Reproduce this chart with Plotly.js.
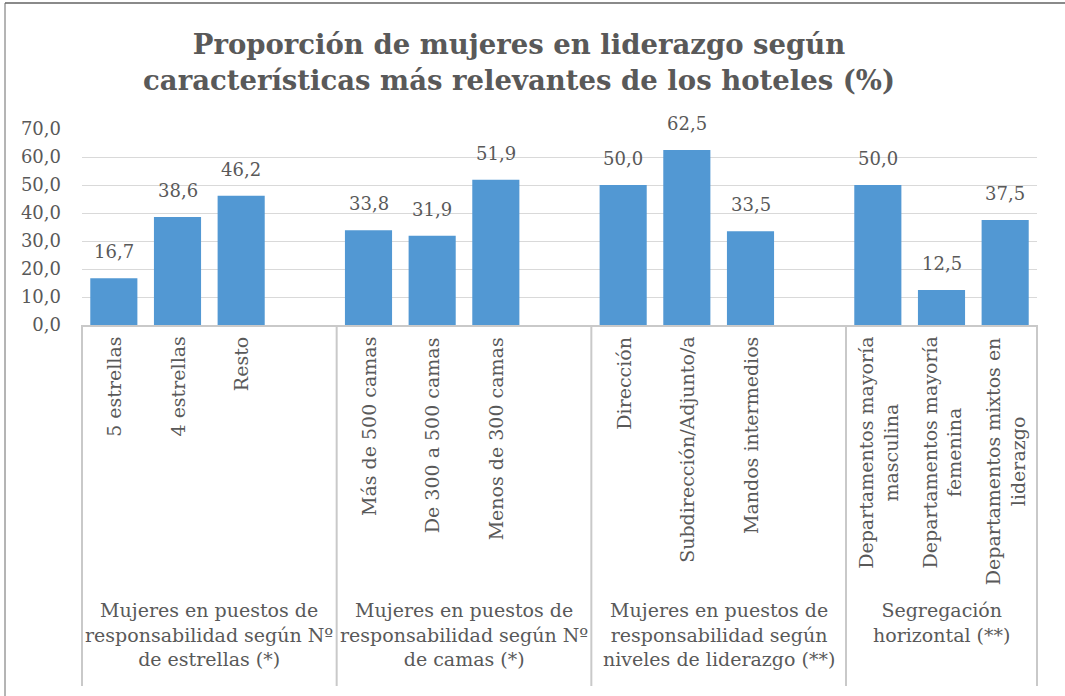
<!DOCTYPE html>
<html>
<head>
<meta charset="utf-8">
<script src="https://cdn.plot.ly/plotly-3.0.1.min.js"></script>
<style>
  html, body { margin: 0; padding: 0; background: #fff; }
  #chart { width: 1065px; height: 696px; }
</style>
</head>
<body>
<div id="chart"></div>
<script>
const titleText = "Proporción de mujeres en liderazgo según<br>características más relevantes de los hoteles (%)";
const groupLabels = [
  "Mujeres en puestos de<br>responsabilidad según Nº<br>de estrellas (*)",
  "Mujeres en puestos de<br>responsabilidad según Nº<br>de camas (*)",
  "Mujeres en puestos de<br>responsabilidad según<br>niveles de liderazgo (**)",
  "Segregación<br>horizontal (**)"
];
const categories = [
  "5 estrellas", "4 estrellas", "Resto",
  "Más de 500 camas", "De 300 a 500 camas", "Menos de 300 camas",
  "Dirección", "Subdirección/Adjunto/a", "Mandos intermedios",
  "Departamentos mayoría<br>masculina", "Departamentos mayoría<br>femenina", "Departamentos mixtos en<br>liderazgo"
];
const values = [16.7, 38.6, 46.2, 33.8, 31.9, 51.9, 50.0, 62.5, 33.5, 50.0, 12.5, 37.5];
const groupOf = [0, 0, 0, 1, 1, 1, 2, 2, 2, 3, 3, 3];
const yTicks = [0, 10, 20, 30, 40, 50, 60, 70];

// layout constants (pixels)
const W = 1065, H = 696;
const M = { l: 82, r: 28, t: 129, b: 371 };
const plotH = H - M.t - M.b;
const FONT = "DejaVu Serif";
const TXT = "#595959";
const NUM_SIZE = 18;
const LBL_SIZE = 19;

// slot positions: one empty slot after each group except the last
const slots = values.map((v, i) => i + groupOf[i]);
const nGroups = groupLabels.length;
const xMin = -0.5;
const xMax = slots[slots.length - 1] + 0.5;
const nSlots = xMax - xMin;

// group boundaries in slot units
const groupStart = [], groupEnd = [];
for (let g = 0; g < nGroups; g++) {
  const idx = slots.filter((s, i) => groupOf[i] === g);
  groupStart.push(Math.min(...idx) - 0.5);
  groupEnd.push(g === nGroups - 1 ? Math.max(...idx) + 0.5 : Math.max(...idx) + 1.5);
}

const trace = {
  type: "bar",
  x: slots,
  y: values,
  width: 0.74,
  marker: { color: "#5298d3" },
  hoverinfo: "skip"
};

const annotations = [];
// value labels
values.forEach((v, i) => {
  annotations.push({
    x: slots[i], y: v, xref: "x", yref: "y",
    text: v.toFixed(1).replace(".", ","),
    showarrow: false, yanchor: "bottom", xanchor: "center", yshift: 14,
    font: { family: FONT, size: NUM_SIZE, color: TXT }
  });
});
// category labels (rotated)
categories.forEach((c, i) => {
  annotations.push({
    x: slots[i], y: 0, xref: "x", yref: "paper",
    text: c, textangle: -90, showarrow: false,
    xanchor: "center", yanchor: "top", yshift: -10, align: "center",
    font: { family: FONT, size: LBL_SIZE, color: TXT }
  });
});
// group labels
groupLabels.forEach((gl, g) => {
  annotations.push({
    x: (groupStart[g] + groupEnd[g]) / 2, y: 0, xref: "x", yref: "paper",
    text: gl, showarrow: false,
    xanchor: "center", yanchor: "top", yshift: -272, align: "center",
    font: { family: FONT, size: LBL_SIZE, color: TXT }
  });
});

// divider lines
const toPaperX = s => (s - xMin) / nSlots;
const bottomPx = 686;
const yBottom = -(bottomPx - (H - M.b)) / plotH;
const boundaries = [groupStart[0]].concat(groupEnd);
const shapes = boundaries.map(b => ({
  type: "line", xref: "paper", yref: "paper",
  x0: toPaperX(b), x1: toPaperX(b), y0: 0, y1: yBottom,
  line: { color: "#c9c9c9", width: 2 }
}));
// outer chart frame (top + left)
const frameLeft = -(M.l - 5) / (W - M.l - M.r);
const frameTop = 1 + (M.t - 3) / plotH;
shapes.push({
  type: "line", xref: "paper", yref: "paper",
  x0: frameLeft, x1: 1 + (M.r + 5) / (W - M.l - M.r), y0: frameTop, y1: frameTop,
  line: { color: "#8a8a8a", width: 2 }
});
shapes.push({
  type: "line", xref: "paper", yref: "paper",
  x0: frameLeft, x1: frameLeft, y0: frameTop, y1: -(H - M.t + 10 - plotH) / plotH - 1,
  line: { color: "#6a6a6a", width: 1 }
});

const layout = {
  width: W, height: H,
  margin: M,
  paper_bgcolor: "#ffffff",
  plot_bgcolor: "#ffffff",
  separators: ",.",
  showlegend: false,
  title: {
    text: titleText,
    x: 519 / W, xanchor: "center",
    y: 1 - 54 / H, yanchor: "top",
    font: { family: FONT, size: 27.5, color: TXT, weight: "bold" }
  },
  xaxis: {
    range: [xMin, xMax],
    showticklabels: false, ticks: "",
    showgrid: false, zeroline: false,
    showline: true, linecolor: "#c9c9c9", linewidth: 2,
    fixedrange: true
  },
  yaxis: {
    range: [0, 70],
    tickvals: yTicks,
    ticktext: yTicks.map(t => t.toFixed(1).replace(".", ",")),
    showgrid: true, gridcolor: "#d9d9d9", gridwidth: 1,
    zeroline: false, showline: false, ticks: "",
    ticklabelstandoff: 20,
    tickfont: { family: FONT, size: NUM_SIZE, color: TXT },
    fixedrange: true
  },
  annotations: annotations,
  shapes: shapes
};

Plotly.newPlot("chart", [trace], layout, { displayModeBar: false, staticPlot: true });
</script>
</body>
</html>
